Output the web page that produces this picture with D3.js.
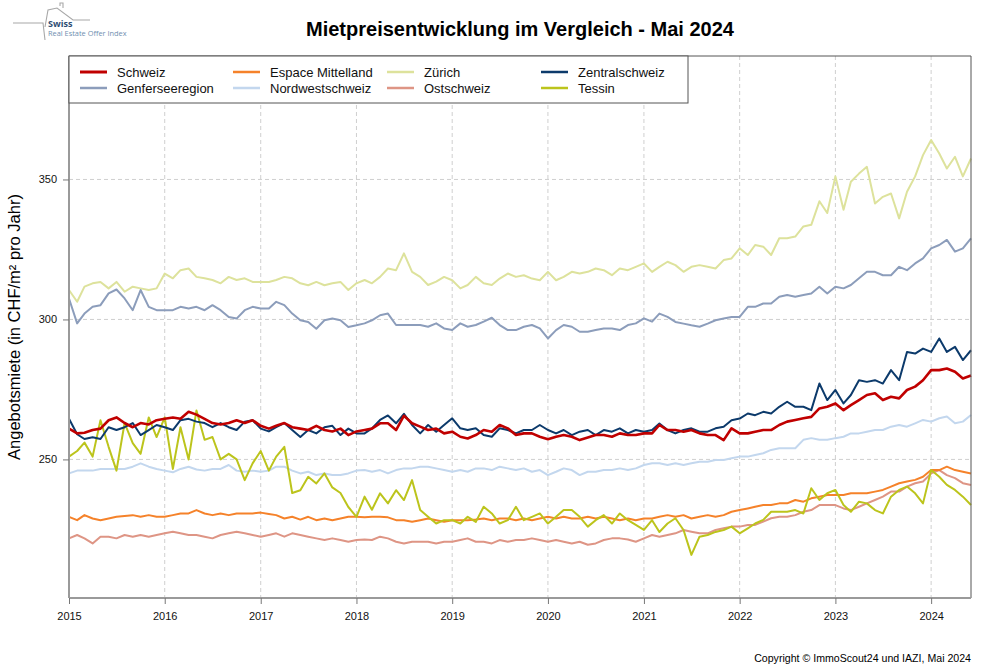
<!DOCTYPE html>
<html>
<head>
<meta charset="utf-8">
<script src="https://cdn.jsdelivr.net/npm/d3@7"></script>
<style>
  body { margin: 0; background: #fff; font-family: "Liberation Sans", Arial, sans-serif; }
</style>
</head>
<body>
<div id="chart"></div>
<script>
// monthly readings, Jan 2015 .. Jun 2024 (114 values each)
const schweiz = [
  261,259.3,259.5,260.5,261,264,265,263,261.5,263,
  262.5,264,264.5,265,264.5,267,266,264.5,263,262.5,
  263,264,263,264,262,261,262,263,261.5,261,
  260.5,262,260.5,260,261,258.7,260,260.5,261,262.9,
  262.9,260.5,265.6,262.9,261.7,260.5,261,259.3,259.9,258.1,
  257.5,258.7,260.5,259.9,262.3,261.1,258.7,259.3,259.3,258.1,
  257.2,258.1,258.7,258.1,256.9,257.8,258.7,258.7,258.1,259.3,
  258.7,258.7,259.3,259.3,262.3,260.5,260.5,259.9,260.5,259.3,
  258.7,258.7,256.9,261.1,259.3,259.3,259.9,260.5,260.5,262.3,
  263.5,264.1,264.7,265.2,268.2,268.8,270,267.6,269.4,271.2,
  273,273.6,271.2,272.4,271.8,274.8,276,278.3,281.9,281.9,
  282.5,281.3,278.9,280];
const genfersee = [
  307.5,298.6,302.1,304.5,305.1,309.3,310.7,307.5,303.3,310.5,
  304.5,303.3,303.3,303.3,304.5,303.9,304.5,303.3,305.1,303.3,
  300.9,300.3,303.3,304.5,303.9,303.9,306.3,305.1,302.1,299.7,
  299.1,296.7,299.7,300.3,299.7,297.3,297.9,298.6,299.7,301.5,
  302.1,298,298,298,298,297.4,298.6,296.8,296.2,298.6,
  297.4,298,299.2,300.6,298,296.2,296.2,297.4,298,296.8,
  293.2,296.2,298,297.4,295.6,295.6,296.2,296.8,296.8,296.2,
  298,298.6,300.4,299.2,302.1,300.9,299.1,298.5,297.9,297.4,
  298.5,299.7,300.3,300.9,300.9,304.5,304.5,305.7,305.7,308.1,
  308.7,308.1,308.7,309.3,311.7,309.3,311.7,311.1,312.3,314.7,
  317,317,315.8,315.8,318.8,317.6,320,321.8,325.4,326.6,
  328.4,324.2,325.4,329];
const espace = [
  229.5,228.3,230.1,228.9,228.3,228.9,229.5,229.8,230.1,229.5,
  230.1,229.5,229.5,230.1,230.7,230.7,231.9,230.7,230.1,230.7,
  230.1,230.7,230.7,230.7,231,230.5,230.1,228.9,229.5,228.5,
  229.5,228.3,228.9,228.3,228.9,229.5,229.5,229.3,229.5,229.5,
  229.3,228.3,228.3,227.7,228.3,228.9,228.3,227.7,228.3,228.3,
  228.3,228.5,228.9,228.3,228.9,228.9,228.3,228.9,228.3,228.9,
  229.5,228.9,229.5,228.9,228.9,229.5,228.9,229.5,228.9,228.3,
  228.9,228.3,228.9,228.9,229.5,230.1,229.5,230.1,228.9,229.5,
  230.1,229.5,230.1,231.3,231.9,232.5,233.1,233.7,233.7,234.3,
  234.3,235.5,234.9,236.1,236.7,237.3,237.3,237.3,237.9,237.9,
  237.9,238.5,239.1,240.3,241.5,242.1,242.7,243.8,246.2,246.2,
  247.4,246.2,245.6,245];
const nordwest = [
  245,246,246,246,246.6,246.6,246.6,246.6,247.4,248.6,
  247.4,246.6,246,245.4,246.6,247.4,246.4,246,246.6,246.6,
  248,246,245.6,246,245.6,246,247.4,247.4,246,245,
  245.6,244.4,245,244.4,244.4,245,246,246.2,245.6,246.2,
  245,246.2,246.8,246.8,247.4,247.4,246.8,246.2,245.6,246.2,
  245.6,246.8,246.8,246.2,247.4,246.8,246.2,246.8,245.6,246.2,
  244.4,245.6,246.8,246.2,244.4,245.6,245.6,246.2,246.2,246.8,
  246.2,246.8,248,248.6,248.6,248,248.6,248,248.6,249.2,
  249.2,249.8,249.8,250.4,251,251,251.6,252.2,253.4,254,
  254,254,257,257.6,257,257,257.6,258.1,259.3,259.3,
  259.9,260.5,260.5,261.7,262.3,261.7,262.9,264.1,263.5,264.7,
  265.3,262.9,263.5,265.9];
const zuerich = [
  310.5,306.3,311.7,312.9,313.4,311.1,313.4,309.9,311.7,311.1,
  310.5,311.1,316.4,314.7,317.6,318.2,315.2,314.7,314.1,312.9,
  315.2,314.1,314.7,313.4,313.4,313.4,314.1,315.2,314.7,312.9,
  312.2,313.4,312.2,312.9,313.4,310.5,312.9,314.1,312.9,315.2,
  318.2,317.6,323.6,317,315.2,312.3,313.5,315.2,314,311.1,
  312.3,315.2,312.9,312.3,314.6,316.4,315.2,315.8,314.6,314,
  317,314,315.2,317,316.4,317,318.2,317.6,315.8,318.2,
  317.6,318.8,320,317,318.8,320.6,319.4,317,318.8,319.4,
  318.8,318.2,321.2,321.8,325.4,323,326.6,326,323,329,
  329,329.6,333.2,333.8,342.2,338,351.1,339.2,349.2,352.1,
  354.5,341.4,343.8,345,336.1,345.6,351.1,358.7,364.1,359.3,
  353.9,358.1,351.1,357.5];
const ostschweiz = [
  221.8,223,221.8,220,222.4,222.4,221.8,223,222.4,223,
  222.4,223,223.6,224.2,223.6,223,223,222.4,221.8,223,
  223.6,224.2,223.6,223,222.4,223,223.6,222.4,223.6,223,
  222.4,221.8,221.2,221.8,221.2,220.6,221.2,221.4,221.2,222.4,
  221.8,220.6,220,220.6,220.6,220.6,220,220.6,220.6,221.2,
  221.8,220.6,220.6,220,221.2,220.6,221.2,221.2,221.8,221.2,
  220.6,221.2,220.6,220,220.6,219.5,220,221.2,221.8,221.8,
  221.4,220.6,221.8,223,222.4,223,223.6,224.8,224.2,223.6,
  223.6,224.8,225.4,226,226,226.6,226.6,227.8,229,229.5,
  229.5,230.1,231.3,231.9,233.7,233.7,233.7,232.5,231.9,233.1,
  234.3,235.5,236.7,238.5,238.5,240.3,241.5,242.1,245,246.2,
  244.4,243.3,241.5,240.9];
const zentral = [
  264.5,259,257.3,257.9,257.3,261.5,260.5,261.5,263,258.7,
  260.5,262.3,261.5,260.5,264,264.5,263.5,263,261.5,263,
  261.5,260.5,263.5,264,261,260,261.5,263,260.5,258,
  260.5,259.3,261.5,262,258.7,261,259.3,259.3,261.1,264.1,
  265.7,262.9,266.3,262.3,259.3,262.3,259.9,262.3,264.7,261.1,
  260.5,261.1,258.7,258.1,261.1,260.5,259.3,260.5,260.5,262.3,
  260.5,259.3,260.5,258.7,259.9,260.5,258.7,260.5,259.9,261.1,
  259.3,260.5,259.9,260.5,262.8,260.5,259.3,260.5,261.1,259.9,
  259.9,261.1,261.7,264,264.6,266.4,265.8,267,266.4,268.8,
  270.6,268.8,268.8,267.6,277.1,271.2,274.8,270,273,278.3,
  277.7,278.3,277.1,281.9,278.3,288.4,287.8,289.6,288.4,293.2,
  288.4,290.2,285.5,289];
const tessin = [
  251,253,256,251,264,254.5,246,263,255.8,252,
  265,258,265,246.6,261.5,250,267.5,257,258,250,
  252,250,242.6,248.6,253,246,251,254.5,238,239,
  243.8,241.4,245,240,238,233,229.5,236.7,232,237.9,
  234.3,239,235.5,242.6,231.9,229.5,227.1,228.3,228.3,227.1,
  229.5,227.7,233.1,230.7,227.1,228.3,233.1,228.3,229.5,230.7,
  227.1,229.5,231.9,231.9,229.5,226,228.3,230.1,227.1,230.7,
  228.3,226.6,224.8,228.3,224.1,227.1,229,224.8,215.9,222.4,
  223,224.1,224.8,226,223.6,225.4,227.1,228.4,231.3,231.3,
  231.3,231.9,230.7,239.7,235.5,237.9,239.1,233.7,231.3,234.9,
  234.3,231.9,230.7,236.7,239.1,240.3,237.9,234.3,246.2,243.8,
  240.9,239.1,236.7,233.7];

const yearTicks = [2015,2016,2017,2018,2019,2020,2021,2022,2023,2024];
const yTicks = [250,300,350];

const series = [
  {name: "Schweiz",           values: schweiz,    color: "#c00000", w: 2.6},
  {name: "Genferseeregion",   values: genfersee,  color: "#8c9dbb", w: 2},
  {name: "Espace Mittelland", values: espace,     color: "#f5822a", w: 2},
  {name: "Nordwestschweiz",   values: nordwest,   color: "#c3d7ee", w: 2},
  {name: "Zürich",            values: zuerich,    color: "#dde29c", w: 2},
  {name: "Ostschweiz",        values: ostschweiz, color: "#de9585", w: 2},
  {name: "Zentralschweiz",    values: zentral,    color: "#0c3a6b", w: 2},
  {name: "Tessin",            values: tessin,     color: "#bcc41c", w: 2}
];

const W = 1000, H = 667;
const margin = {top: 56, right: 29, bottom: 69, left: 69};
const width = W - margin.left - margin.right, height = H - margin.top - margin.bottom;

const svg = d3.select("#chart").append("svg")
  .attr("width", W).attr("height", H)
  .style("font-family", '"Liberation Sans", Arial, sans-serif');

const g = svg.append("g").attr("transform", `translate(${margin.left},${margin.top})`);

const dates = schweiz.map((_, i) => new Date(2015, i, 1));

const x = d3.scaleTime().domain(d3.extent(dates)).range([0, width]);
const y = d3.scaleLinear().domain([200.5, 394.1]).range([height, 0]);

// grid
g.append("g").selectAll("line").data(yearTicks).join("line")
  .attr("x1", d => x(new Date(d, 0, 1))).attr("x2", d => x(new Date(d, 0, 1)))
  .attr("y1", 0).attr("y2", height)
  .attr("stroke", "#cfcfcf").attr("stroke-dasharray", "4,3");
g.append("g").selectAll("line").data(yTicks).join("line")
  .attr("x1", 0).attr("x2", width)
  .attr("y1", d => y(d)).attr("y2", d => y(d))
  .attr("stroke", "#cfcfcf").attr("stroke-dasharray", "4,3");

// lines (Schweiz last so it sits on top)
const line = d3.line().x((d, i) => x(dates[i])).y(d => y(d));
const order = ["Zürich","Genferseeregion","Nordwestschweiz","Ostschweiz","Espace Mittelland","Tessin","Zentralschweiz","Schweiz"];
g.append("g").selectAll("path")
  .data(order.map(n => series.find(s => s.name === n)))
  .join("path")
  .attr("d", d => line(d.values))
  .attr("fill", "none")
  .attr("stroke", d => d.color)
  .attr("stroke-width", d => d.w)
  .attr("stroke-linejoin", "round");

// frame top/right
g.append("path")
  .attr("d", `M0,0H${width}V${height}`)
  .attr("fill", "none").attr("stroke", "#555").attr("stroke-width", 1);

// axes
const xAxis = g.append("g").attr("transform", `translate(0,${height})`)
  .call(d3.axisBottom(x).tickValues(yearTicks.map(d => new Date(d, 0, 1)))
    .tickFormat(d3.timeFormat("%Y")).tickSizeInner(6).tickSizeOuter(0).tickPadding(8));
const yAxis = g.append("g")
  .call(d3.axisLeft(y).tickValues(yTicks).tickSizeInner(6).tickSizeOuter(0).tickPadding(6));
[xAxis, yAxis].forEach(a => {
  a.select(".domain").attr("stroke", "#9a9a9a").attr("stroke-width", 2);
  a.selectAll(".tick line").attr("stroke", "#777");
  a.selectAll("text").attr("font-size", 11).attr("fill", "#111")
    .style("font-family", '"Liberation Sans", Arial, sans-serif');
});
xAxis.select(".domain").attr("d", `M0,0H${width}`);
yAxis.select(".domain").attr("d", `M0,0V${height}`);

// legend
const legendRows = [
  ["Schweiz","Espace Mittelland","Zürich","Zentralschweiz"],
  ["Genferseeregion","Nordwestschweiz","Ostschweiz","Tessin"]
];
const colX = [11, 164, 318, 472];
const leg = g.append("g");
leg.append("rect").attr("x", 0).attr("y", 0).attr("width", 619).attr("height", 47)
  .attr("fill", "#fff").attr("stroke", "#555");
legendRows.forEach((row, r) => row.forEach((name, c) => {
  const s = series.find(d => d.name === name);
  const yy = 16 + r * 16;
  leg.append("line").attr("x1", colX[c]).attr("x2", colX[c] + 27)
    .attr("y1", yy).attr("y2", yy)
    .attr("stroke", s.color).attr("stroke-width", s.name === "Schweiz" ? 3 : 2.5);
  leg.append("text").attr("x", colX[c] + 37).attr("y", yy + 4.5)
    .attr("font-size", 13).attr("fill", "#111").text(name);
}));

// titles
svg.append("text").attr("x", margin.left + width / 2).attr("y", 36)
  .attr("text-anchor", "middle").attr("font-size", 20).attr("font-weight", "bold")
  .text("Mietpreisentwicklung im Vergleich - Mai 2024");
svg.append("text")
  .attr("transform", `translate(14,${margin.top + height / 2}) rotate(-90)`)
  .attr("text-anchor", "middle").attr("dy", "0.35em").attr("font-size", 16.5)
  .text("Angebotsmiete (in CHF/m² pro Jahr)");
svg.append("text").attr("x", margin.left + width).attr("y", 662)
  .attr("text-anchor", "end").attr("font-size", 10.6)
  .text("Copyright © ImmoScout24 und IAZI, Mai 2024");

// logo
const logo = svg.append("g");
logo.append("path")
  .attr("d", "M13,23H43L45,40M45,27L48,10L57,8L73,20H90M60,6V3H63V8")
  .attr("fill", "none").attr("stroke", "#a8a8a8").attr("stroke-width", 1.1);
logo.append("text").attr("x", 48).attr("y", 27).attr("font-size", 9)
  .attr("font-weight", "bold").attr("fill", "#2e4d73")
  .style("font-family", '"Open Sans", sans-serif').text("Swiss");
logo.append("text").attr("x", 48).attr("y", 36).attr("font-size", 7.4)
  .attr("fill", "#6f8fb0")
  .style("font-family", '"Open Sans", sans-serif').text("Real Estate Offer Index");
</script>
</body>
</html>
